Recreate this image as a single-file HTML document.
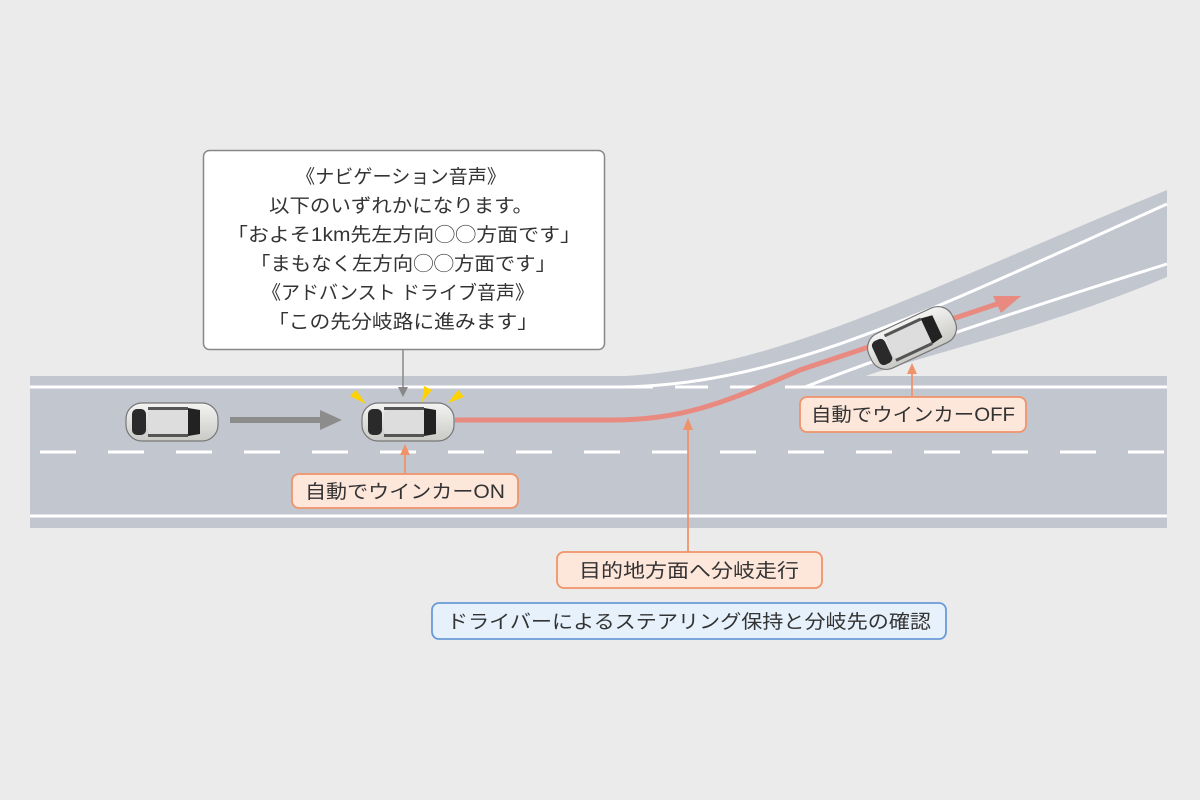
<!DOCTYPE html>
<html><head><meta charset="utf-8"><style>
html,body{margin:0;padding:0;background:#ebebeb;}
svg{display:block;}
text{font-family:"Liberation Sans","Noto Sans CJK JP",sans-serif;fill:#333;}
</style></head><body>
<svg width="1200" height="800" viewBox="0 0 1200 800" xmlns="http://www.w3.org/2000/svg">
<defs>
<linearGradient id="cb" x1="0" y1="0" x2="0" y2="1"><stop offset="0" stop-color="#f4f4f2"/><stop offset="1" stop-color="#c9c9c6"/></linearGradient>
<radialGradient id="lt"><stop offset="0" stop-color="#ffd400"/><stop offset="1" stop-color="#ffe680" stop-opacity="0"/></radialGradient>
<g id="car">
<rect x="-46" y="-19" width="92" height="38" rx="16" fill="url(#cb)" stroke="#777" stroke-width="1.2"/>
<rect x="-40" y="-13" width="14" height="26" rx="5" fill="#2a2a2a"/>
<rect x="-24" y="-12" width="40" height="24" rx="3" fill="#ddd"/>
<path d="M16 -14 L28 -12 L28 12 L16 14 Z" fill="#222"/>
<rect x="-24" y="-15" width="40" height="3" fill="#555"/>
<rect x="-24" y="12" width="40" height="3" fill="#555"/>
</g>
</defs>
<rect width="1200" height="800" fill="#ebebeb"/>
<rect x="30" y="376" width="1137" height="152" fill="#c2c6cf"/>
<path d="M593 377 C760 377 900 300 1167 190 L1167 277 C1040 330 940 350 863 377 Z" fill="#c2c6cf"/>
<path d="M620 387 C780 385 920 315 1167 204" fill="none" stroke="#fff" stroke-width="3"/>
<path d="M805 387 C900 350 1020 310 1167 264" fill="none" stroke="#fff" stroke-width="3"/>
<line x1="30" y1="387" x2="620" y2="387" stroke="#fff" stroke-width="3"/>
<line x1="620" y1="387" x2="805" y2="387" stroke="#fff" stroke-width="3" stroke-dasharray="33 22"/>
<line x1="805" y1="387" x2="1167" y2="387" stroke="#fff" stroke-width="3"/>
<line x1="30" y1="452" x2="1167" y2="452" stroke="#fff" stroke-width="3" stroke-dasharray="36 32" stroke-dashoffset="-10"/>
<line x1="30" y1="516" x2="1167" y2="516" stroke="#fff" stroke-width="3"/>
<path d="M455 420 L610 420 C680 420 720 405 800 370 L1000 303" fill="none" stroke="#e98a80" stroke-width="5"/>
<path d="M1021 296 L993 296 L1001 313 Z" fill="#e98a80"/>
<line x1="230" y1="420" x2="322" y2="420" stroke="#8c8c8c" stroke-width="6"/>
<path d="M342 420 L320 410 L320 430 Z" fill="#8c8c8c"/>
<path d="M366 404 L350 396 L356 390 Z" fill="#ffd200"/>
<path d="M422 402 L424 386 L432 390 Z" fill="#ffd200"/>
<path d="M448 403 L458 390 L464 397 Z" fill="#ffd200"/>
<use href="#car" transform="translate(172,422)"/>
<use href="#car" transform="translate(408,422)"/>
<use href="#car" transform="translate(912,338) rotate(-25)"/>
<rect x="203.5" y="150.5" width="401" height="199" rx="6" fill="#fff" stroke="#888" stroke-width="1.5"/>
<line x1="403" y1="349" x2="403" y2="390" stroke="#888" stroke-width="1.5"/>
<path d="M403 397 L398 387 L408 387 Z" fill="#888"/>
<g font-size="19" text-anchor="middle">
<text x="401" y="183" textLength="210" lengthAdjust="spacingAndGlyphs">《ナビゲーション音声》</text>
<text x="401" y="212" textLength="264" lengthAdjust="spacingAndGlyphs">以下のいずれかになります。</text>
<text x="404" y="241" textLength="354" lengthAdjust="spacingAndGlyphs">「およそ1km先左方向◯◯方面です」</text>
<text x="403" y="270" textLength="306" lengthAdjust="spacingAndGlyphs">「まもなく左方向◯◯方面です」</text>
<text x="398" y="299" textLength="272" lengthAdjust="spacingAndGlyphs">《アドバンスト ドライブ音声》</text>
<text x="403" y="328" textLength="270" lengthAdjust="spacingAndGlyphs">「この先分岐路に進みます」</text>
</g>
<g stroke="#f0936a" stroke-width="1.8">
<line x1="405" y1="474" x2="405" y2="452"/>
<line x1="912" y1="397" x2="912" y2="372"/>
<line x1="688" y1="552" x2="688" y2="428"/>
</g>
<g fill="#f0936a">
<path d="M405 444 L400 455 L410 455 Z"/>
<path d="M912 363 L907 374 L917 374 Z"/>
<path d="M688 418 L683 430 L693 430 Z"/>
</g>
<g fill="#fde6da" stroke="#f0936a" stroke-width="1.8">
<rect x="292" y="474" width="226" height="34" rx="7"/>
<rect x="800" y="397" width="226" height="35" rx="7"/>
<rect x="557" y="552" width="265" height="36" rx="7"/>
</g>
<rect x="432" y="603" width="514" height="36" rx="7" fill="#e6f1fb" stroke="#6a9bd8" stroke-width="1.8"/>
<g font-size="19" text-anchor="middle">
<text x="405" y="498" textLength="200" lengthAdjust="spacingAndGlyphs">自動でウインカーON</text>
<text x="913" y="421" textLength="204" lengthAdjust="spacingAndGlyphs">自動でウインカーOFF</text>
<text x="689" y="577" textLength="220" lengthAdjust="spacingAndGlyphs">目的地方面へ分岐走行</text>
<text x="689" y="628" textLength="484" lengthAdjust="spacingAndGlyphs">ドライバーによるステアリング保持と分岐先の確認</text>
</g>
</svg>
</body></html>
